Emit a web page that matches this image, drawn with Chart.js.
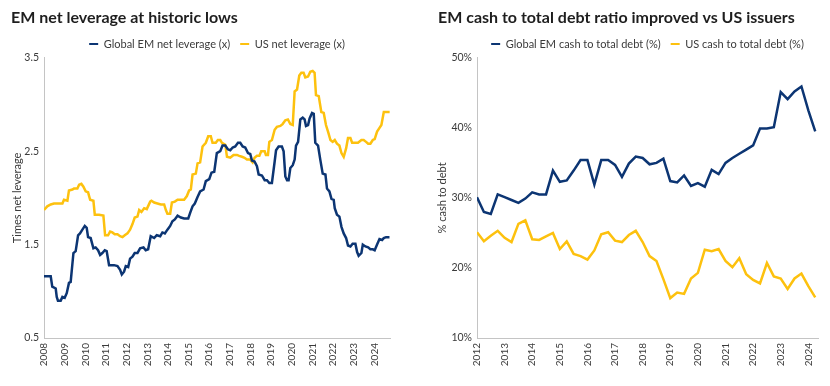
<!DOCTYPE html>
<html><head><meta charset="utf-8">
<script src="https://cdn.jsdelivr.net/npm/chart.js@4.4.1/dist/chart.umd.min.js"></script>
<style>
html,body{margin:0;padding:0;background:#fff;}
#wrap{position:relative;width:830px;height:386px;overflow:hidden;background:#fff;}
.c{position:absolute;top:0;width:415px;height:386px;}
#left{left:0;}
#right{left:415px;}
</style></head><body>
<div id="wrap">
<div class="c" id="left"><canvas id="c1" width="415" height="386"></canvas></div>
<div class="c" id="right"><canvas id="c2" width="415" height="386"></canvas></div>
</div>
<script>
// ---------- Left chart: net leverage (x), x = months since Jan 2008 ----------
const leftTitle = 'EM net leverage at historic lows';
const leftSeriesNames = ['Global EM net leverage (x)', 'US net leverage (x)'];
const leftYearLabels = ['2008','2009','2010','2011','2012','2013','2014','2015','2016','2017','2018','2019','2020','2021','2022','2023','2024'];
const leftYTicks = ['0.5','1.5','2.5','3.5'];
const leftYTitle = 'Times net leverage';

const emMonths = [0,3.9,4.8,6.8,7.4,8.1,9.7,10.7,12.0,13.2,14.5,15.5,17.1,18.4,19.8,20.9,22.3,23.7,24.8,25.6,27.1,28.7,30.0,31.4,32.6,33.9,35.3,36.4,37.8,40.7,42.7,44.2,45.2,46.5,47.5,48.9,50.0,51.4,52.7,54.3,55.8,57.8,59.1,60.5,62.0,64.0,65.5,67.5,68.8,70.2,71.7,73.3,74.6,76.0,77.6,79.5,81.4,83.8,84.9,86.3,87.6,89.2,90.7,92.7,94.0,96.0,97.3,98.9,100.4,102.4,103.7,105.3,106.8,108.2,109.6,111.1,112.7,114.0,115.4,116.9,118.5,119.8,120.8,122.3,123.7,124.7,126.6,128.2,129.5,130.9,132.4,134.0,134.8,136.3,138.2,139.2,140.2,141.2,142.1,143.1,144.5,145.6,146.4,147.6,148.9,150.3,151.4,152.2,153.4,154.3,155.7,156.7,157.6,159.2,160.5,161.9,163.5,164.4,165.8,167.0,168.3,168.9,170.2,171.6,172.8,174.1,175.5,176.6,178.0,179.3,180.9,181.9,182.8,184.4,185.2,186.7,188.3,189.6,191.0,192.1,193.5,194.9,196.4,197.4,198.7,200.7];
const emLeverage = [1.16,1.16,1.05,1.03,0.94,0.90,0.90,0.94,0.93,0.98,1.09,1.10,1.41,1.43,1.60,1.62,1.66,1.70,1.68,1.58,1.57,1.46,1.47,1.44,1.39,1.41,1.44,1.43,1.28,1.28,1.27,1.23,1.18,1.21,1.27,1.26,1.35,1.37,1.41,1.41,1.46,1.47,1.44,1.45,1.59,1.57,1.60,1.59,1.63,1.62,1.66,1.70,1.75,1.77,1.81,1.79,1.78,1.78,1.84,1.91,1.94,2.01,2.07,2.09,2.18,2.20,2.27,2.28,2.48,2.50,2.56,2.56,2.52,2.51,2.54,2.55,2.59,2.59,2.55,2.54,2.48,2.47,2.40,2.39,2.34,2.25,2.24,2.19,2.19,2.16,2.16,2.39,2.51,2.55,2.55,2.50,2.23,2.19,2.19,2.32,2.35,2.41,2.56,2.60,2.84,2.86,2.84,2.77,2.78,2.85,2.91,2.90,2.59,2.56,2.41,2.26,2.25,2.10,2.07,1.99,1.98,1.89,1.82,1.80,1.69,1.62,1.57,1.49,1.48,1.51,1.51,1.42,1.38,1.41,1.50,1.48,1.47,1.45,1.45,1.44,1.50,1.56,1.55,1.57,1.58,1.58];

const usMonths = [0,1.9,3.9,5.8,8.7,10.7,11.6,13.6,14.5,16.5,17.4,19.4,20.4,21.7,22.9,24.2,25.6,26.8,28.7,29.5,32.0,34.5,35.5,37.2,38.4,39.7,41.1,42.7,44.2,45.6,46.9,48.5,50.0,51.4,52.7,54.3,55.3,56.6,58.2,59.7,61.7,62.4,64.0,65.9,67.9,69.8,70.8,71.7,73.3,74.3,76.0,77.6,81.4,83.0,84.3,85.3,86.3,88.2,89.2,90.7,92.1,94.0,95.4,96.9,97.9,99.8,101.0,102.4,103.4,105.3,106.3,108.2,110.1,112.1,113.4,115.0,116.5,117.9,119.8,121.2,122.3,123.7,125.1,126.2,128.2,128.9,130.1,130.9,132.4,134.0,135.3,137.3,138.6,140.2,141.7,143.1,144.5,145.6,147.0,148.3,149.5,150.8,151.8,153.4,154.7,156.1,157.2,158.0,159.6,161.1,162.5,163.8,165.0,166.4,167.7,168.9,170.2,171.6,172.8,174.1,175.5,176.6,178.0,179.0,182.4,184.4,185.7,187.1,188.3,189.6,191.0,192.1,193.5,194.9,196.0,197.4,200.8];
const usLeverage = [1.87,1.91,1.93,1.94,1.94,1.94,1.98,1.97,2.08,2.09,2.10,2.10,2.14,2.15,2.12,2.07,2.06,1.98,1.97,1.82,1.82,1.81,1.60,1.60,1.64,1.63,1.61,1.61,1.59,1.58,1.60,1.62,1.66,1.72,1.79,1.80,1.87,1.85,1.89,1.88,1.96,1.97,1.95,1.94,1.93,1.93,1.87,1.83,1.83,1.95,1.96,1.98,1.98,2.02,2.08,2.09,2.25,2.26,2.37,2.38,2.55,2.59,2.66,2.66,2.59,2.59,2.62,2.62,2.59,2.57,2.44,2.43,2.46,2.46,2.45,2.44,2.43,2.41,2.41,2.38,2.43,2.45,2.45,2.50,2.50,2.46,2.46,2.60,2.62,2.73,2.76,2.77,2.79,2.83,2.84,2.79,2.78,3.14,3.16,3.31,3.34,3.34,3.29,3.30,3.35,3.36,3.34,3.10,3.09,2.92,2.91,2.78,2.71,2.62,2.60,2.62,2.58,2.56,2.48,2.44,2.53,2.64,2.64,2.59,2.59,2.62,2.62,2.60,2.58,2.58,2.62,2.63,2.71,2.75,2.78,2.92,2.92];

// ---------- Right chart: cash to total debt (%), quarterly from 2012 Q1 ----------
const rightTitle = 'EM cash to total debt ratio improved vs US issuers';
const rightSeriesNames = ['Global EM cash to total debt (%)', 'US cash to total debt (%)'];
const rightYearLabels = ['2012','2013','2014','2015','2016','2017','2018','2019','2020','2021','2022','2023','2024'];
const rightYTicks = ['10%','20%','30%','40%','50%'];
const rightYTitle = '% cash to debt';

const emCash = [30.1,28.0,27.7,30.5,30.1,29.7,29.3,29.9,30.8,30.5,30.5,33.9,32.3,32.5,33.9,35.4,35.4,31.9,35.4,35.4,34.7,33.0,34.9,35.9,35.7,34.8,35.0,35.6,32.4,32.2,33.2,31.7,32.1,31.6,34.0,33.4,35.0,35.7,36.3,36.9,37.5,39.9,39.9,40.1,45.1,44.1,45.2,45.9,42.5,39.5];
const usCash = [25.1,23.8,24.6,25.3,24.3,23.7,26.3,26.8,24.1,24.0,24.5,25.0,22.7,23.8,22.0,21.7,21.2,22.5,24.8,25.1,23.9,23.7,24.7,25.3,23.7,21.7,21.0,18.4,15.7,16.5,16.3,18.5,19.3,22.6,22.4,22.7,21.0,20.1,21.4,19.1,18.3,17.8,20.7,18.8,18.5,17.0,18.5,19.2,17.4,15.8];

// ---------- styling ----------
const NAVY = '#0c3573';
const GOLD = '#fdc10e';
const TEXT = '#3a3a3a';
const AXIS = '#c4c4c4';
Chart.defaults.font.family = 'Lato, "Open Sans", sans-serif';
Chart.defaults.color = TEXT;

const pairs = (xs, ys) => xs.map((x, i) => ({x, y: ys[i]}));

// centre the legend on the plot area and pin title / legend vertical positions
const placeBoxes = {
  id: 'placeBoxes',
  afterLayout(chart, args, o) {
    const ca = chart.chartArea;
    const lg = chart.legend;
    if (lg) {
      const h = lg.bottom - lg.top;
      const c = (ca.left + ca.right) / 2;
      lg.left = c - 500; lg.right = c + 500; lg.width = 1000;
      lg.top = o.legendTop; lg.bottom = o.legendTop + h;
    }
    const tb = chart.titleBlock;
    if (tb) {
      const h = tb.bottom - tb.top;
      tb.left = o.titleLeft; tb.right = chart.width; tb.width = chart.width - o.titleLeft;
      tb.top = o.titleTop; tb.bottom = o.titleTop + h;
    }
  }
};

function legendLabels(chart) {
  return Chart.defaults.plugins.legend.labels.generateLabels(chart).map(l => {
    l.fillStyle = l.strokeStyle; l.lineWidth = 0; return l;
  });
}

function makeChart(id, cfg) {
  return new Chart(document.getElementById(id), {
    type: 'line',
    data: { datasets: cfg.datasets },
    plugins: [placeBoxes],
    options: {
      responsive: false,
      animation: false,
      devicePixelRatio: 1,
      layout: { padding: { top: 7.6, left: 0, right: cfg.padRight, bottom: 0 } },
      elements: { point: { radius: 0 }, line: { borderWidth: 2.5, tension: 0, borderJoinStyle: 'miter' } },
      plugins: {
        tooltip: { enabled: false },
        placeBoxes: { titleLeft: cfg.titleLeft, titleTop: 8.4, legendTop: 28.5 },
        title: {
          display: true, text: cfg.title, align: 'start', color: '#1e1e1e',
          font: { size: 16, weight: 'bold' }, padding: 0
        },
        legend: {
          display: true, position: 'top', align: 'center',
          labels: { boxWidth: 9, boxHeight: 2, padding: 10, font: { size: 11 }, color: TEXT, generateLabels: legendLabels }
        }
      },
      scales: {
        x: {
          type: 'linear', min: 0, max: cfg.xMax,
          afterFit: s => { s.height = 48; },
          grid: { display: false, drawTicks: false },
          border: { display: true, color: AXIS, width: 1 },
          ticks: {
            stepSize: cfg.xStep, autoSkip: false, includeBounds: false,
            minRotation: 90, maxRotation: 90, padding: 5,
            font: { size: 10 }, color: TEXT,
            callback: v => (v % cfg.xStep === 0 ? cfg.xLabels[v / cfg.xStep] : '')
          }
        },
        y: {
          type: 'linear', min: cfg.yMin, max: cfg.yMax,
          afterFit: s => { s.width = cfg.yWidth; },
          grid: { display: false, drawTicks: false },
          border: { display: true, color: AXIS, width: 1 },
          title: { display: true, text: cfg.yTitle, color: TEXT, font: { size: 11 }, padding: { top: cfg.yTitlePad, bottom: 0 } },
          ticks: {
            stepSize: cfg.yStep, padding: 5, font: { size: 10.5 }, color: TEXT,
            callback: (v, i) => cfg.yLabels[i]
          }
        }
      }
    }
  });
}

makeChart('c1', {
  title: leftTitle, titleLeft: 11, padRight: 25, yWidth: 44, yTitlePad: 11,
  xMax: 201, xStep: 12, xLabels: leftYearLabels,
  yMin: 0.5, yMax: 3.5, yStep: 1, yLabels: leftYTicks, yTitle: leftYTitle,
  datasets: [
    { label: leftSeriesNames[0], data: pairs(emMonths, emLeverage), borderColor: NAVY, backgroundColor: NAVY },
    { label: leftSeriesNames[1], data: pairs(usMonths, usLeverage), borderColor: GOLD, backgroundColor: GOLD }
  ]
});

makeChart('c2', {
  title: rightTitle, titleLeft: 23, padRight: 12, yWidth: 62, yTitlePad: 21,
  xMax: 49.4, xStep: 4, xLabels: rightYearLabels,
  yMin: 10, yMax: 50, yStep: 10, yLabels: rightYTicks, yTitle: rightYTitle,
  datasets: [
    { label: rightSeriesNames[0], data: emCash.map((v, i) => ({x: i, y: v})), borderColor: NAVY, backgroundColor: NAVY },
    { label: rightSeriesNames[1], data: usCash.map((v, i) => ({x: i, y: v})), borderColor: GOLD, backgroundColor: GOLD }
  ]
});
</script>
</body></html>
